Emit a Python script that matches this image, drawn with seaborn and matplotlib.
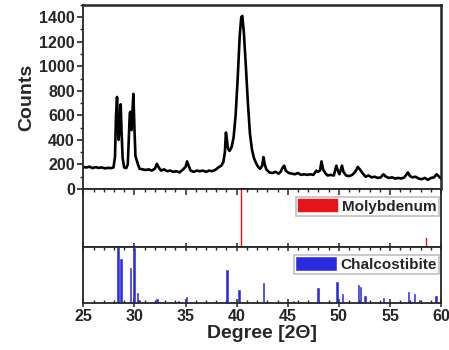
import pandas as pd
import matplotlib
matplotlib.use("Agg")
import matplotlib.pyplot as plt
from matplotlib.ticker import MultipleLocator
import seaborn as sns

xrd_deg = [
    25.0, 25.3, 25.6, 25.9, 26.2, 26.5, 26.8, 27.1, 27.4, 27.7, 27.95,
    28.1, 28.2, 28.3, 28.38, 28.45, 28.55, 28.66, 28.75, 28.85, 29.0,
    29.2, 29.35, 29.45, 29.55, 29.64, 29.72, 29.8, 29.9, 30.0, 30.1,
    30.2, 30.35, 30.5, 30.8, 31.1, 31.4, 31.7, 32.0, 32.2, 32.35, 32.6,
    32.9, 33.2, 33.5, 33.8, 34.1, 34.4, 34.7, 35.0, 35.15, 35.3, 35.5,
    35.8, 36.1, 36.4, 36.7, 37.0, 37.3, 37.6, 37.9, 38.2, 38.5, 38.7,
    38.85, 38.95, 39.05, 39.15, 39.3, 39.5, 39.7, 39.9, 40.1, 40.3,
    40.45, 40.55, 40.7, 40.9, 41.1, 41.3, 41.5, 41.7, 41.9, 42.1, 42.3,
    42.5, 42.62, 42.75, 42.9, 43.2, 43.5, 43.8, 44.1, 44.3, 44.5, 44.65,
    44.8, 45.1, 45.4, 45.7, 46.0, 46.3, 46.6, 46.9, 47.2, 47.5, 47.8,
    47.95, 48.15, 48.3, 48.45, 48.7, 48.9, 49.2, 49.5, 49.75, 49.9,
    50.05, 50.3, 50.45, 50.7, 51.0, 51.3, 51.6, 51.85, 52.05, 52.3,
    52.6, 52.9, 53.2, 53.5, 53.8, 54.1, 54.35, 54.6, 54.9, 55.2, 55.5,
    55.8, 56.1, 56.4, 56.75, 56.95, 57.2, 57.5, 57.8, 58.1, 58.4, 58.7,
    59.0, 59.3, 59.55, 59.8, 60.0,
]
xrd_counts = [
    180, 175, 182, 170, 178, 172, 176, 168, 172, 170, 175,
    260, 600, 750, 560, 400, 500, 690, 450, 250, 175,
    170, 200, 400, 620, 630, 480, 620, 775, 500, 270,
    240, 200, 165, 160, 155, 160, 150, 165, 205, 180, 150,
    160, 145, 150, 140, 145, 135, 155, 180, 225, 190, 150,
    140, 150, 145, 150, 140, 150, 145, 155, 175, 190, 220,
    300, 460, 400, 330, 310, 340, 420, 600, 900, 1250,
    1400, 1410, 1280, 1000, 700, 450, 320, 250, 210, 180, 165,
    190, 260, 200, 160, 135, 130, 140, 125, 140, 175, 190,
    150, 130, 125, 120, 130, 115, 120, 115, 120, 115, 150,
    140, 150, 225, 160, 125, 110, 115, 110, 190, 150,
    120, 190, 140, 110, 105, 115, 140, 180, 160, 130,
    100, 110, 95, 100, 90, 95, 120, 100, 90, 95, 85,
    90, 85, 95, 135, 105, 95, 100, 85, 80, 90, 75,
    90, 95, 120, 100, 85,
]

# reference pattern: Molybdenum
mo_deg = [40.5, 58.6]
mo_int = [100, 16]

# reference pattern: Chalcostibite
cs_deg = [28.42, 28.69, 29.6, 29.93, 30.29, 30.45, 32.18, 34.3, 35.1,
          39.03, 40.24, 42.62, 45.55, 47.93, 49.79, 50.34, 51.9, 52.1,
          52.56, 54.35, 56.8, 57.39, 57.87, 59.5]
cs_int = [100, 79, 62, 99, 18, 6, 7, 4, 11,
          60, 24, 36, 3, 27, 37.5, 15.5, 33, 29,
          12.5, 9.5, 19.6, 15.5, 5, 12]

sns.set_style("ticks")
plt.rcParams["font.family"] = ["Liberation Sans", "DejaVu Sans"]
plt.rcParams["font.weight"] = "bold"

fig = plt.figure(figsize=(4.49, 3.5), dpi=100)
left, width = 0.1855, 0.797
ax1 = fig.add_axes([left, 0.46, width, 0.526])
ax2 = fig.add_axes([left, 0.294, width, 0.166])
ax3 = fig.add_axes([left, 0.134, width, 0.16])

xrd = pd.DataFrame({"deg": xrd_deg, "counts": xrd_counts})
sns.lineplot(data=xrd, x="deg", y="counts", color="black", linewidth=1.9,
             sort=False, estimator=None, ax=ax1)

red, blue = "#e8141c", "#2a2ae0"
ax2.bar(mo_deg, mo_int, width=0.13, color=red, edgecolor=red, linewidth=0.3,
        label="Molybdenum")
ax3.bar(cs_deg, cs_int, width=0.16, color=blue, edgecolor=blue, linewidth=0.4,
        label="Chalcostibite")

for ax in (ax1, ax2, ax3):
    ax.set_xlim(25, 60)
    ax.xaxis.set_major_locator(MultipleLocator(5))
    ax.xaxis.set_minor_locator(MultipleLocator(1))
    for s in ax.spines.values():
        s.set_linewidth(1.3)
        s.set_visible(True)
    ax.set_xlabel("")
    ax.set_ylabel("")

ax1.set_ylim(0, 1500)
ax1.yaxis.set_minor_locator(MultipleLocator(100))
ax1.set_yticks(range(0, 1401, 200))
ax1.tick_params(axis="y", which="major", direction="out", length=4, width=1.2,
                labelsize=11.5, pad=2)
ax1.tick_params(axis="y", which="minor", direction="out", length=2.5, width=1)
ax1.tick_params(axis="x", which="both", bottom=False, labelbottom=False)
ax1.spines["top"].set_linewidth(1.8)
ax1.spines["right"].set_linewidth(1.8)
ax1.set_ylabel("Counts", fontsize=14, fontweight="bold", labelpad=3)

for ax in (ax2, ax3):
    ax.set_ylim(0, 100)
    ax.set_yticks([])
    ax.tick_params(axis="x", which="both", top=True, direction="in")
    ax.tick_params(axis="x", which="major", length=4, width=1.1)
    ax.tick_params(axis="x", which="minor", length=2.5, width=1)
    leg = ax.legend(loc="upper right", bbox_to_anchor=(0.995, 0.86),
                    frameon=True, fancybox=False, shadow=False,
                    edgecolor="#b0b0b0", handlelength=2.6, handleheight=0.9,
                    handletextpad=0.3, borderpad=0.15, borderaxespad=0.0,
                    prop={"weight": "bold", "size": 11})
    leg.get_frame().set_linewidth(1.2)

ax2.tick_params(axis="x", which="both", bottom=False, labelbottom=False)
ax3.tick_params(axis="x", which="major", direction="inout", length=6)
ax3.tick_params(axis="x", labelsize=11.5, pad=1)
ax3.set_xticks(range(25, 61, 5))
ax3.set_xlabel("Degree [2\u0398]", fontsize=14, fontweight="bold", labelpad=1)

fig.savefig("out.png", dpi=100)
